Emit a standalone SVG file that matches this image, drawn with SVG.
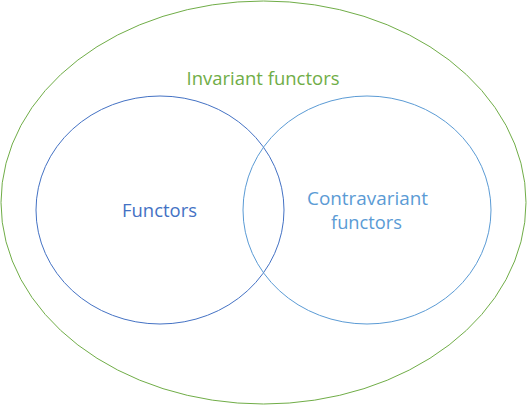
<svg xmlns="http://www.w3.org/2000/svg" width="527" height="405" viewBox="0 0 527 405">
<style>
text{font-family:"Open Sans","Liberation Sans",sans-serif;font-size:19px;text-anchor:middle}
ellipse{fill:none;stroke-width:1}
</style>
<rect width="527" height="405" fill="#fff"/>
<g id="invariant">
<ellipse cx="263.5" cy="202.5" rx="262.5" ry="201.5" stroke="#70AD47"/>
<text x="263" y="85" fill="#70AD47" textLength="153" lengthAdjust="spacingAndGlyphs">Invariant functors</text>
</g>
<g id="functors">
<ellipse cx="160" cy="210" rx="124" ry="114" stroke="#4472C4"/>
<text x="159.5" y="217" fill="#4472C4" textLength="75" lengthAdjust="spacingAndGlyphs">Functors</text>
</g>
<g id="contravariant">
<ellipse cx="367" cy="210" rx="124" ry="114" stroke="#5B9BD5"/>
<text x="367.5" y="205" fill="#5B9BD5" textLength="121" lengthAdjust="spacingAndGlyphs">Contravariant</text>
<text x="366.5" y="229" fill="#5B9BD5" textLength="71" lengthAdjust="spacingAndGlyphs">functors</text>
</g>
<g id="connectors"></g>
</svg>
